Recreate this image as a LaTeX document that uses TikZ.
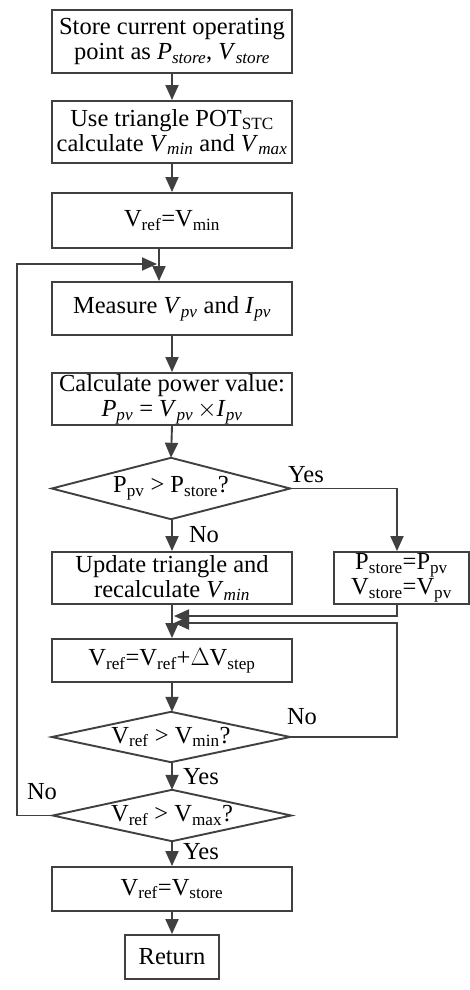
\documentclass[tikz,border=0pt]{standalone}
\usepackage{fontspec}
\setmainfont{Liberation Serif}
\usetikzlibrary{arrows.meta}
\definecolor{ink}{HTML}{404040}
% upright and italic subscripts
\newcommand{\sub}[1]{\textsubscript{#1}}
\newcommand{\isub}[2]{\textit{#1}\textsubscript{\textit{#2}}}

\begin{document}
\begin{tikzpicture}[x=1pt,y=-1pt,
  every node/.style={font=\fontsize{24.5}{25}\selectfont, text=black},
  box/.style={draw=ink, line width=1.9pt, rectangle, inner sep=0pt,
              minimum width=240pt, align=center},
  % decision: an undrawn frame whose edge midpoints carry the diamond
  dia/.style={rectangle, inner sep=0pt, minimum width=238pt, align=center},
  dedge/.style={draw=ink, line width=1.9pt, line join=miter},
  flow/.style={draw=ink, line width=1.9pt,
               -{Triangle[length=15pt,width=13pt]}},
  lbl/.style={inner sep=0pt}]
\useasboundingbox (0,0) rectangle (470,990);

% process boxes and decisions
\node[box, minimum height=63pt] (b1) at (172,41.5)
  {Store current operating\\point as \isub{P}{store}, \isub{V}{store}};
\node[box, minimum height=62pt] (b2) at (172,132)
  {Use triangle POT\sub{STC}\\calculate \isub{V}{min} and \isub{V}{max}};
\node[box, minimum height=55pt] (b3) at (172,220.5)
  {V\sub{ref}=V\sub{min}};
\node[box, minimum height=53pt] (b4) at (172,308.5)
  {Measure \isub{V}{pv} and \isub{I}{pv}};
\node[box, minimum height=52pt] (b5) at (172,399)
  {Calculate power value:\\\isub{P}{pv} = \isub{V}{pv}\,$\times$\isub{I}{pv}};
\node[dia, minimum height=61pt] (d1) at (171,488.5)
  {P\sub{pv} > P\sub{store}?};
\node[box, minimum height=52pt] (b6) at (172,578)
  {Update triangle and\\recalculate \isub{V}{min}};
\node[box, minimum width=135pt, minimum height=52pt] (b7) at (401.5,578)
  {P\sub{store}=P\sub{pv}\\V\sub{store}=V\sub{pv}};
\node[box, minimum height=43pt] (b8) at (172,660.5)
  {V\sub{ref}=V\sub{ref}+$\Delta$V\sub{step}};
\node[dia, minimum height=50pt] (d2) at (171,737)
  {V\sub{ref} > V\sub{min}?};
\node[dia, minimum height=51pt] (d3) at (172,815.5)
  {V\sub{ref} > V\sub{max}?};
\node[box, minimum height=44pt] (b9) at (172,889)
  {V\sub{ref}=V\sub{store}};
\node[box, minimum width=94pt, minimum height=44pt] (ret) at (172,957)
  {Return};

% diamond outlines
\foreach \d in {d1,d2,d3}
  \draw[dedge] (\d.north) -- (\d.east) -- (\d.south) -- (\d.west) -- cycle;

% junction points of the loops
\coordinate (loopin) at (157,264);
\coordinate (rx) at (397,0);
\coordinate (m1) at (174,616);
\coordinate (m2) at (174,623);

% main flow
\draw[flow] (b1) -- (b2);
\draw[flow] (b2) -- (b3);
\draw[flow] ([xshift=-13pt]b3.south) -- ([xshift=-13pt]b4.north);
\draw[flow] (b4) -- (b5);
\draw[flow] (b5.south) -- (d1.north);
\draw[flow] (d1.south -| b6.north) -- (b6.north);
\draw[flow] (b6) -- (b8);
\draw[flow] (b8.south) -- (d2.north -| b8.south);
\draw[flow] (d2.south -| d3.north) -- (d3.north);
\draw[flow] (d3.south) -- (b9.north);
\draw[flow] (b9) -- (ret);

% branches and loops
\draw[flow] (d1.east) -| (b7.north -| rx);
\draw[flow] (b7.south -| rx) |- (m1);
\draw[flow] (d2.east) -| (rx |- m2) -- (m2);
\draw[flow] (d3.west) -- ++(-36,0) |- (loopin);

% branch labels
\node[lbl] at (306,475) {Yes};
\node[lbl] at (204,535) {No};
\node[lbl] at (302,717) {No};
\node[lbl] at (201,777) {Yes};
\node[lbl] at (42,792) {No};
\node[lbl] at (201,852) {Yes};
\end{tikzpicture}
\end{document}
